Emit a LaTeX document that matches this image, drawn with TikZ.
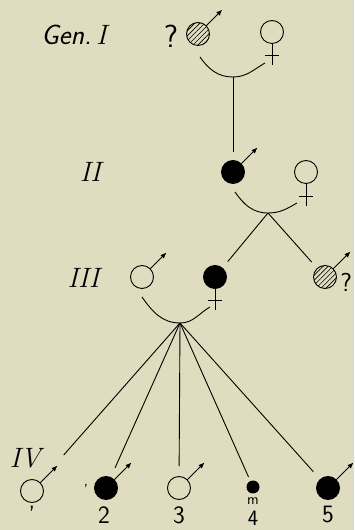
\documentclass[tikz,border=0pt]{standalone}
\usepackage{fontspec}
\usetikzlibrary{arrows.meta,patterns.meta}
\definecolor{paper}{RGB}{224,220,191}
\tikzset{every picture/.style={line width=0.9pt}}

\begin{document}
\begin{tikzpicture}[x=1pt, y=1pt,
    indiv/.style={circle, draw, inner sep=0pt, minimum size=23pt},
    affected/.style={indiv, fill=black},
    carrier/.style={indiv, pattern={Lines[angle=45,distance=3.5pt,line width=0.6pt]}},
    tiny/.style={circle, fill=black, inner sep=0pt, minimum size=13pt},
    male/.style={-{Latex[length=6pt,width=5pt]}},
    descent/.style={shorten >=8pt},
    gen/.style={font=\fontsize{28}{30}\selectfont},
    num/.style={inner sep=0pt, font=\sffamily\fontsize{25}{27}\selectfont},
    query/.style={inner sep=0pt, font=\sffamily\fontsize{32}{34}\selectfont}]
    \fill[paper] (0,0) rectangle (354,530);
    \useasboundingbox (0,0) rectangle (354,530);

    % generation I
    \node[gen] (l1) at (74,495) {\sffamily\itshape Gen.\,\rmfamily I};
    \node[query] (q1) at (171,494) {?};
    \node[carrier] (i1) at (198,496) {};
    \node[indiv] (i2) at (272,498) {};
    \draw[male] (i1.45) -- ++(16,16);
    \draw (i2.south) -- ++(0,-21) (i2.south) ++(-7,-12) -- ++(14,0);
    \coordinate (m1) at (233,453);
    \draw ([shift={(2,-23)}]i1.center) to[out=-55,in=180] (m1) to[out=0,in=-150] ([shift={(-7,-31)}]i2.center);

    % generation II
    \node[gen] (l2) at (92,358) {\textit{II}};
    \node[affected] (ii1) at (233,358) {};
    \node[indiv] (ii2) at (306,358) {};
    \draw[male] (ii1.45) -- ++(16,16);
    \draw (ii2.south) -- ++(0,-22) (ii2.south) ++(-7,-13) -- ++(14,0);
    \draw[descent] (m1) -- (ii1);
    \coordinate (m2) at (268,317);
    \draw ([shift={(2,-20)}]ii1.center) to[out=-55,in=180] (m2) to[out=0,in=-150] ([shift={(-9,-31)}]ii2.center);

    % generation III
    \node[gen] (l3) at (85,252) {\textit{III}};
    \node[indiv] (iii1) at (142,253) {};
    \node[affected] (iii2) at (215,253) {};
    \node[carrier] (iii3) at (325,253) {};
    \node[query, anchor=west, font=\sffamily\fontsize{26}{28}\selectfont] (q3) at (340,248) {?};
    \draw[male] (iii1.45) -- ++(16,16);
    \draw[male] (iii3.45) -- ++(17,17);
    \draw (iii2.south) -- ++(0,-21) (iii2.south) ++(-7,-12) -- ++(14,0);
    \draw[descent] (m2) -- (iii2);
    \draw[descent] (m2) -- (iii3);
    \coordinate (m3) at (180,207);
    \draw ([shift={(0,-20)}]iii1.center) to[out=-55,in=180] (m3) to[out=0,in=-150] ([shift={(-5,-30)}]iii2.center);

    % generation IV
    \node[gen] (l4) at (27,72) {\textit{IV}};
    \node[indiv] (iv1) at (32,39) {};
    \node[affected] (iv2) at (106,42) {};
    \node[indiv] (iv3) at (179,42) {};
    \node[tiny] (iv4) at (253,43) {};
    \node[affected] (iv5) at (328,42) {};
    \foreach \k in {1,2,3,5}
        \draw[male] (iv\k.45) -- ++(17,17);
    \draw[shorten >=36pt] (m3) -- (iv1);
    \draw[shorten >=10pt] (m3) -- (iv2);
    \draw[shorten >=10pt] (m3) -- (iv3);
    \draw[shorten >=4pt] (m3) -- (iv4);
    \draw[shorten >=10pt] (m3) -- (iv5);
    \node[num] (n1) at (32,15) {'};
    \node[num, font=\sffamily\fontsize{16}{18}\selectfont] (s2) at (86,40) {'};
    \node[num] (n2) at (104,15) {2};
    \node[num] (n3) at (179,15) {3};
    \node[num, font=\sffamily\fontsize{15}{16}\selectfont] (n4m) at (253,29) {m};
    \node[num, font=\sffamily\fontsize{22}{24}\selectfont] (n4) at (253,12) {4};
    \node[num] (n5) at (328,15) {5};
\end{tikzpicture}
\end{document}
